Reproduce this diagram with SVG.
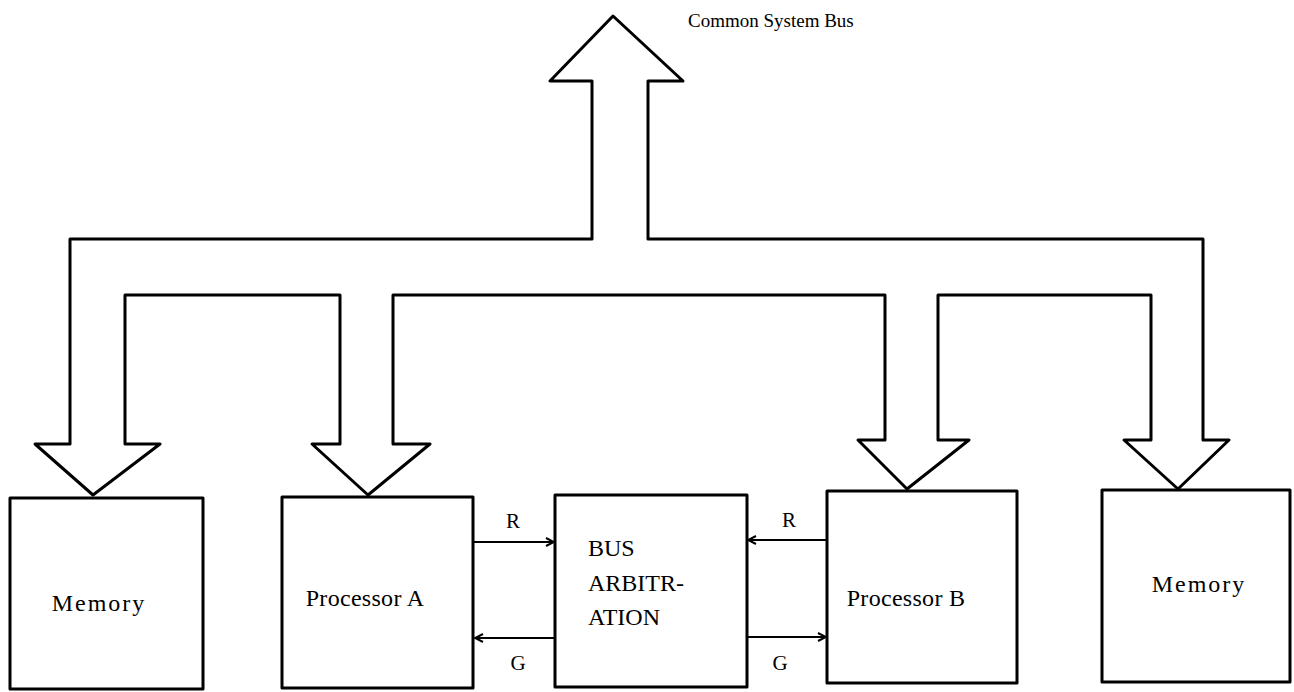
<svg xmlns="http://www.w3.org/2000/svg" width="1294" height="692" viewBox="0 0 1294 692">
  <style>
    .box { fill: #ffffff; stroke: #000000; stroke-width: 3; stroke-linejoin: round; }
    .bus { fill: none; stroke: #000000; stroke-width: 3; stroke-linejoin: round; }
    .sig { fill: none; stroke: #000000; stroke-width: 2; }
    .lbl { font-family: "Liberation Serif", "Times New Roman", serif; font-size: 24px; fill: #000000; }
    .sm { font-family: "Liberation Serif", "Times New Roman", serif; font-size: 21px; fill: #000000; }
    .title { font-family: "Liberation Serif", "Times New Roman", serif; font-size: 19px; fill: #000000; }
  </style>
  <defs>
    <marker id="head" viewBox="0 0 10 10" refX="9" refY="5" markerWidth="10" markerHeight="10" markerUnits="userSpaceOnUse" orient="auto">
      <path d="M1,1 L9,5 L1,9" fill="none" stroke="#000000" stroke-width="2"/>
    </marker>
  </defs>
  <rect width="1294" height="692" fill="#ffffff"/>

  <g id="connectors">
    <path id="system-bus" class="bus" d="M70,444 L35,444 L93,495 L160,444 L125,444 L125,295 L340,295 L340,444 L312,444 L368,495 L430,444 L393,444 L393,295 L885,295 L885,440 L858,440 L907,489 L969,440 L938,440 L938,295 L1151,295 L1151,440 L1124,440 L1178,489 L1229,440 L1203,440 L1203,239 L648,239 L648,81 L683,81 L613,16 L550,81 L592,81 L592,239 L70,239 Z"/>
    <line class="sig" x1="474" y1="542" x2="554" y2="542" marker-end="url(#head)"/>
    <line class="sig" x1="555" y1="638" x2="475" y2="638" marker-end="url(#head)"/>
    <line class="sig" x1="827" y1="540" x2="748" y2="540" marker-end="url(#head)"/>
    <line class="sig" x1="747" y1="637" x2="826" y2="637" marker-end="url(#head)"/>
    <text class="sm" x="513" y="528" text-anchor="middle">R</text>
    <text class="sm" x="518" y="670" text-anchor="middle">G</text>
    <text class="sm" x="789" y="527" text-anchor="middle">R</text>
    <text class="sm" x="780" y="670" text-anchor="middle">G</text>
    <text class="title" x="688" y="27">Common System Bus</text>
  </g>

  <g id="memory-left">
    <rect class="box" x="10" y="498" width="193" height="191"/>
    <text class="lbl" x="99" y="611" text-anchor="middle" letter-spacing="2">Memory</text>
  </g>
  <g id="processor-a">
    <rect class="box" x="282" y="497" width="191" height="191"/>
    <text class="lbl" x="365" y="606" text-anchor="middle" letter-spacing="0.3">Processor A</text>
  </g>
  <g id="bus-arbitration">
    <rect class="box" x="555" y="495" width="192" height="192"/>
    <text class="lbl" x="588" y="556">BUS</text>
    <text class="lbl" x="588" y="591">ARBITR-</text>
    <text class="lbl" x="588" y="625">ATION</text>
  </g>
  <g id="processor-b">
    <rect class="box" x="827" y="491" width="190" height="192"/>
    <text class="lbl" x="906" y="606" text-anchor="middle" letter-spacing="0.3">Processor B</text>
  </g>
  <g id="memory-right">
    <rect class="box" x="1102" y="490" width="188" height="192"/>
    <text class="lbl" x="1199" y="592" text-anchor="middle" letter-spacing="2">Memory</text>
  </g>
</svg>
